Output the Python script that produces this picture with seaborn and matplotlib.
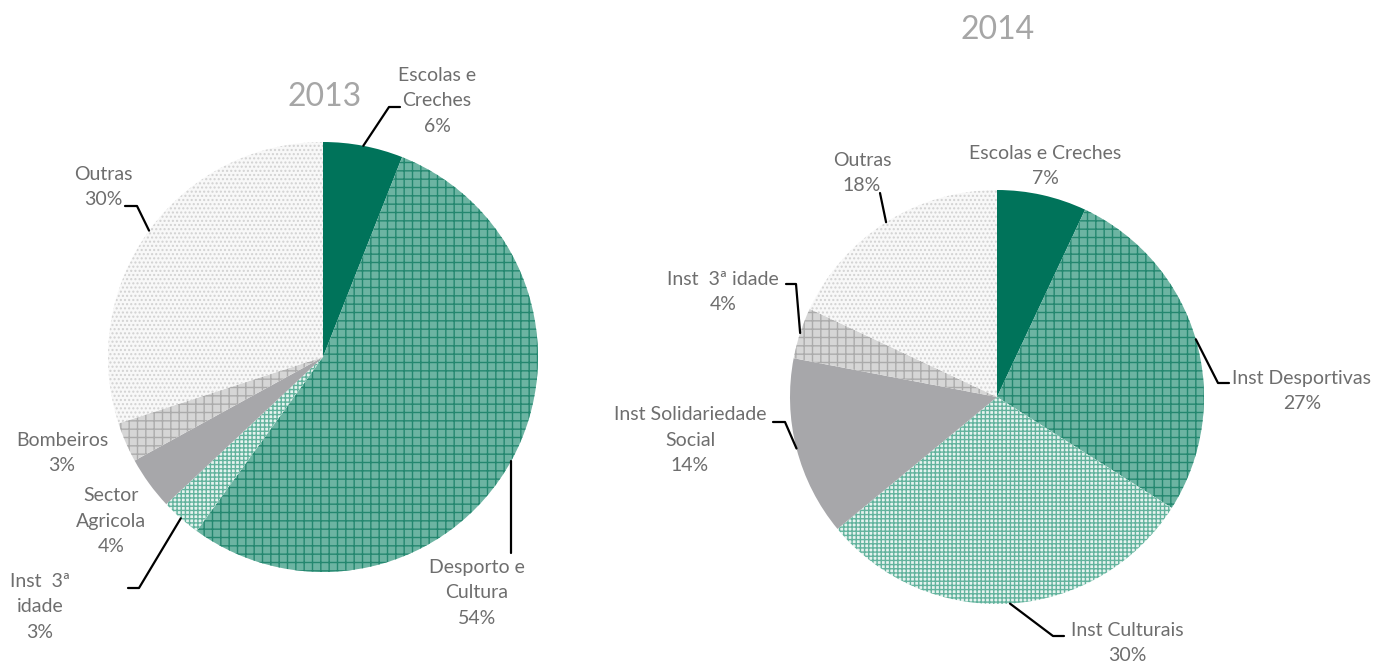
import numpy as np
import matplotlib
matplotlib.use("Agg")
import matplotlib.pyplot as plt
from matplotlib.lines import Line2D
import seaborn as sns

# Shares of the budget by beneficiary type
years = ["2013", "2014"]

labels_2013 = ["Escolas e\nCreches", "Desporto e\nCultura", "Inst  3ª\nidade",
               "Sector\nAgricola", "Bombeiros", "Outras"]
shares_2013 = [6, 54, 3, 4, 3, 30]

labels_2014 = ["Escolas e Creches", "Inst Desportivas", "Inst Culturais",
               "Inst Solidariedade\nSocial", "Inst  3ª idade", "Outras"]
shares_2014 = [7, 27, 30, 14, 4, 18]

sns.set_theme(style="white")
plt.rcParams["font.family"] = ["Lato", "DejaVu Sans"]
plt.rcParams["hatch.linewidth"] = 1.0

W, H = 1375, 662
fig = plt.figure(figsize=(W / 100, H / 100), dpi=100)

# fill styles per slice: (face, hatch colour, hatch)
styles_2013 = [
    ("#00735a", "#00735a", None),
    ("#6cb4a2", "#24876f", "++"),
    ("#e6f3ef", "#62b39d", "++++"),
    ("#a7a7aa", "#a7a7aa", None),
    ("#d6d6d6", "#ababab", "++"),
    ("#f8f8f8", "#d2d2d2", "...."),
]
styles_2014 = list(styles_2013)

text_color = "#6e6e6e"
title_color = "#a6a6a6"
FS = 14


def fig_xy(px, py):
    return px / W, 1 - py / H


def draw_pie(cx, cy, r, shares, styles):
    ax = fig.add_axes([(cx - r) / W, (H - cy - r) / H, 2 * r / W, 2 * r / H])
    wedges, _ = ax.pie(shares, startangle=90, counterclock=False, radius=1.0,
                       wedgeprops=dict(linewidth=0))
    for w, (face, hc, hatch) in zip(wedges, styles):
        w.set_facecolor(face)
        w.set_edgecolor(hc)
        w.set_linewidth(0)
        if hatch:
            w.set_hatch(hatch)
    ax.set_xlim(-1, 1)
    ax.set_ylim(-1, 1)
    ax.set_aspect("equal")
    ax.axis("off")
    # edge points at slice mid-angles, in pixel space
    total = float(sum(shares))
    edges = []
    start = 0.0
    for s in shares:
        mid = start + s / total * 360 / 2
        start += s / total * 360
        th = np.deg2rad(90 - mid)
        edges.append((cx + r * np.cos(th), cy - r * np.sin(th)))
    return ax, edges


def label(text, x, y, ha="center"):
    fx, fy = fig_xy(x, y)
    fig.text(fx, fy, text, ha=ha, va="center", fontsize=FS, color=text_color,
             linespacing=1.62)


def leader(edge, *pts):
    xs = [edge[0]] + [p[0] for p in pts]
    ys = [edge[1]] + [p[1] for p in pts]
    fx = [x / W for x in xs]
    fy = [1 - y / H for y in ys]
    fig.add_artist(Line2D(fx, fy, color="black", lw=1.6, transform=fig.transFigure))


# ---- 2013 ----
ax1, e13 = draw_pie(323, 357, 215, shares_2013, styles_2013)
fig.text(*fig_xy(325, 97), years[0], ha="center", va="center", fontsize=23, color=title_color)

pct13 = [f"{v}%" for v in shares_2013]
label(f"{labels_2013[0]}\n{pct13[0]}", 437, 101)
leader(e13[0], (389, 107), (400, 107))
label(f"{labels_2013[1]}\n{pct13[1]}", 477, 593)
leader(e13[1], (e13[1][0], 553))
label(f"{labels_2013[2]}\n{pct13[2]}", 40, 607)
leader(e13[2], (139, 588), (128, 588))
label(f"{labels_2013[3]}\n{pct13[3]}", 111, 521)
label(f"{labels_2013[4]}\n{pct13[4]}", 62, 453)
label(f"{labels_2013[5]}\n{pct13[5]}", 103, 187)
leader(e13[5], (137, 206), (125, 206))

# ---- 2014 ----
ax2, e14 = draw_pie(997, 397, 207, shares_2014, styles_2014)
fig.text(*fig_xy(998, 30), years[1], ha="center", va="center", fontsize=23, color=title_color)

pct14 = [f"{v}%" for v in shares_2014]
label(f"{labels_2014[0]}\n{pct14[0]}", 1045, 166)
label(f"{labels_2014[1]}\n{pct14[1]}", 1302, 391)
leader(e14[1], (1218, 383), (1229, 383))
label(f"{labels_2014[2]}\n{pct14[2]}", 1127, 643)
leader(e14[2], (1053, 636), (1064, 636))
label(f"{labels_2014[3]}\n{pct14[3]}", 690, 440)
leader(e14[3], (785, 422), (773, 422))
label(f"{labels_2014[4]}\n{pct14[4]}", 723, 292)
leader(e14[4], (796, 284), (786, 284))
label(f"{labels_2014[5]}\n{pct14[5]}", 862, 173)
leader(e14[5], (880, 193))

fig.savefig("out.png", dpi=100, facecolor="white")
